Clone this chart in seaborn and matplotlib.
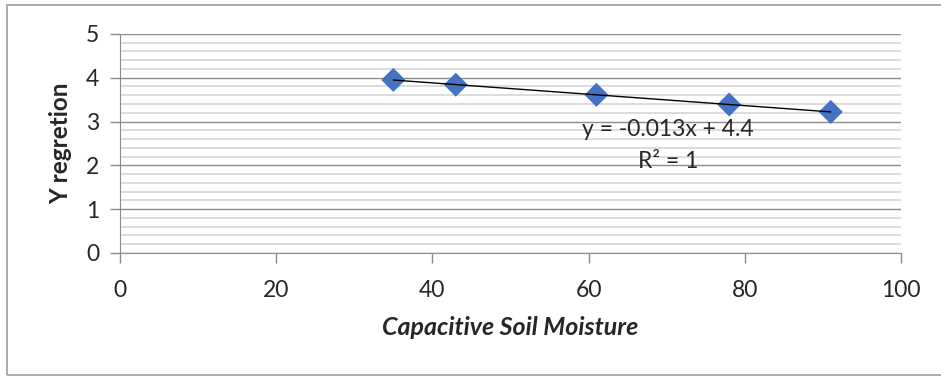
import numpy as np
import pandas as pd
import matplotlib
matplotlib.use("Agg")
import matplotlib.pyplot as plt
import seaborn as sns
from matplotlib.ticker import MultipleLocator
from matplotlib.patches import Rectangle

# values
moisture = [35, 43, 61, 78, 91]
y_regretion = [3.95, 3.84, 3.61, 3.39, 3.22]
x_ticks = [0, 20, 40, 60, 80, 100]
y_ticks = [0, 1, 2, 3, 4, 5]

df = pd.DataFrame({"moisture": moisture, "y": y_regretion})

sns.set_style("white")
plt.rcParams["font.family"] = ["Lato", "DejaVu Sans"]

fig = plt.figure(figsize=(9.41, 3.79), dpi=100)
ax = fig.add_axes([0.1275, 0.3325, 0.83, 0.578])

# outer chart border
fig.patches.append(Rectangle((7 / 941, 4 / 379), 1.0, 370 / 379, transform=fig.transFigure,
                             fill=False, edgecolor="#a6a6a6", linewidth=1.3, zorder=0))

sns.regplot(data=df, x="moisture", y="y", ax=ax, ci=None, truncate=True, marker="D",
            scatter_kws={"s": 150, "color": "#4472C4", "alpha": 1, "edgecolor": "none", "zorder": 3},
            line_kws={"color": "black", "linewidth": 1.0, "zorder": 4})

ax.set_xlim(0, 100)
ax.set_ylim(0, 5)
ax.set_xticks(x_ticks)
ax.set_yticks(y_ticks)
ax.yaxis.set_minor_locator(MultipleLocator(0.2))
ax.grid(axis="y", which="minor", color="#d9d9d9", linewidth=1.3, zorder=0)
ax.grid(axis="y", which="major", color="#8c8c8c", linewidth=1.0, zorder=1)
ax.set_axisbelow(True)

for s in ["top", "right"]:
    ax.spines[s].set_visible(False)
ax.spines["left"].set_color("#8c8c8c")
ax.spines["bottom"].set_color("#8c8c8c")
ax.tick_params(axis="both", which="major", length=7, width=1, color="#8c8c8c",
               labelsize=16.5, direction="out", left=True, bottom=True)
ax.tick_params(axis="y", which="minor", length=0)
ax.tick_params(axis="x", pad=12.5)
ax.tick_params(axis="y", pad=8)

ax.set_xlabel("Capacitive Soil Moisture", fontsize=18, fontweight="bold", fontstyle="italic", labelpad=11)
ax.set_ylabel("Y regretion", fontsize=17.5, fontweight="bold", labelpad=10)

ax.text(70.2, 2.81, "y = -0.013x + 4.4", fontsize=16.5, ha="center", va="center")
ax.text(70.2, 2.08, "R² = 1", fontsize=16.5, ha="center", va="center")

fig.savefig("out.png", dpi=100)
